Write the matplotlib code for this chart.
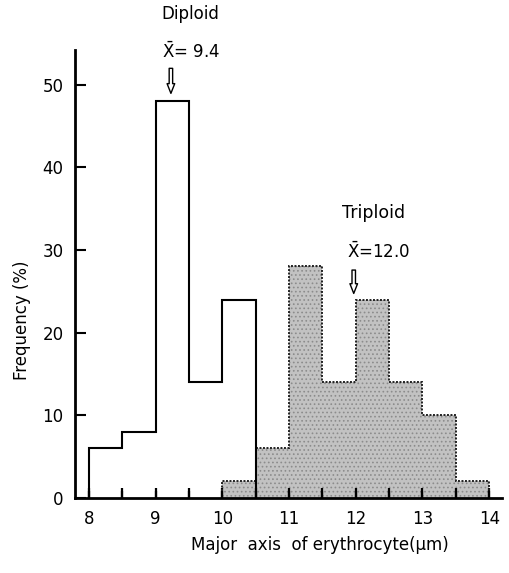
import numpy as np
import matplotlib
matplotlib.use('Agg')
import matplotlib.pyplot as plt

# bin edges (um) and frequencies (%)
edges = np.arange(8.0, 14.01, 0.5)
diploid = [6, 8, 48, 14, 24, 0, 0, 0, 0, 0, 0, 0]
triploid = [0, 0, 0, 0, 2, 6, 28, 14, 24, 14, 10, 2]
mean_dip = 9.4
mean_tri = 12.0

plt.rcParams['hatch.linewidth'] = 0.7

fig = plt.figure(figsize=(5.09, 5.73), dpi=100)
ax = fig.add_axes([0.147, 0.131, 0.839, 0.782])

# triploid: shaded step region, from first non-zero bin
tri = np.array(triploid, float)
i0 = 4
ax.stairs(tri[i0:], edges[i0:], baseline=0, fill=True, facecolor='#c2c2c2',
          edgecolor='#8c8c8c', lw=0, hatch='....', zorder=1)
ax.stairs(tri[i0:], edges[i0:], baseline=0, color='#222222', lw=1.4,
          linestyle=(0, (1, 0.8)), zorder=2)

# diploid: open step outline
dip = np.array(diploid, float)
ax.stairs(dip[:5], edges[:6], baseline=0, color='black', lw=1.5, zorder=3)

ax.set_xlim(7.79, 14.19)
ax.set_ylim(0, 54.2)
ax.spines['top'].set_visible(False)
ax.spines['right'].set_visible(False)
ax.spines['left'].set_linewidth(2)
ax.spines['bottom'].set_linewidth(2)
ax.spines['left'].set_zorder(4)
ax.spines['bottom'].set_zorder(4)
ax.set_xticks(np.arange(8, 15, 1))
ax.set_xticks(np.arange(8, 14.01, 0.5), minor=True)
ax.set_yticks([0, 10, 20, 30, 40, 50])
ax.tick_params(axis='x', which='both', direction='in', length=7, width=1.6, labelsize=12, pad=9)
ax.tick_params(axis='y', direction='in', length=8, width=1.5, labelsize=12, pad=8)
# tick marks drawn again on top of the shaded area
ax.vlines(edges, 0, 7 / 448, transform=ax.get_xaxis_transform(), color='black', lw=1.6, zorder=6)

arrow = dict(arrowstyle='simple,head_width=0.55,head_length=0.7,tail_width=0.25',
             fc='white', ec='black', lw=1)
ax.text(9.52, 58.5, 'Diploid', ha='center', va='center', fontsize=12, clip_on=False)
ax.text(9.53, 54.0, r'$\bar{\mathrm{X}}$= 9.4', ha='center', va='center', fontsize=12, clip_on=False)
ax.annotate('', xy=(9.23, 48.6), xytext=(9.23, 52.3), arrowprops=arrow, annotation_clip=False)
ax.text(12.27, 34.5, 'Triploid', ha='center', va='center', fontsize=12.5)
ax.text(12.34, 29.8, r'$\bar{\mathrm{X}}$=12.0', ha='center', va='center', fontsize=12)
ax.annotate('', xy=(11.97, 24.4), xytext=(11.97, 27.9), arrowprops=arrow)

fig.text(320 / 509, 1 - 545 / 573, 'Major  axis  of erythrocyte(\u03bcm)', ha='center', va='center', fontsize=12)
fig.text(22 / 509, 1 - 320 / 573, 'Frequency (%)', rotation=90, ha='center', va='center', fontsize=12)

fig.savefig('out.png', dpi=100)
